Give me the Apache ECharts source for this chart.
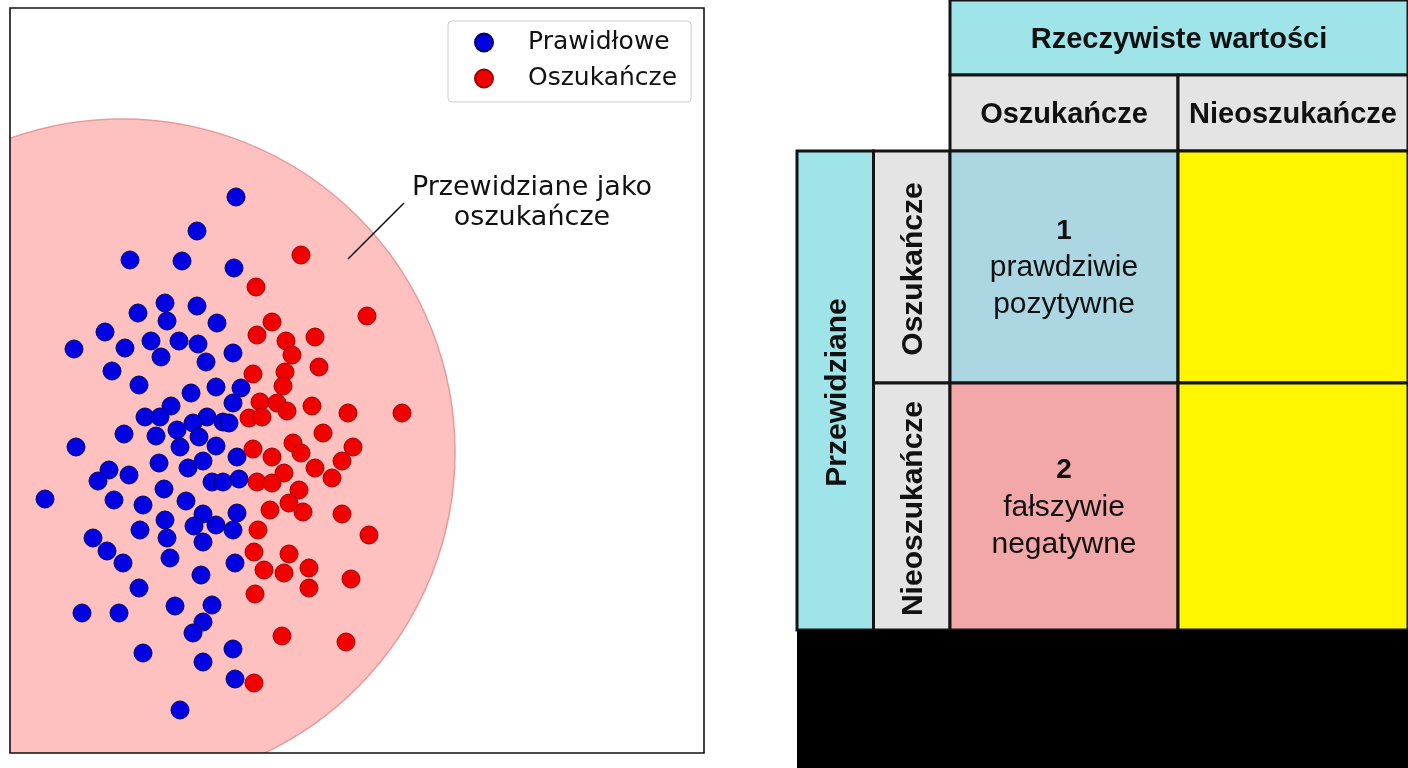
<!DOCTYPE html>
<html><head><meta charset="utf-8">
<script src="https://cdn.jsdelivr.net/npm/echarts@6/dist/echarts.min.js"></script>
<style>html,body{margin:0;padding:0;background:#fff}#chart{width:1408px;height:768px}</style>
</head><body><div id="chart"></div>
<script>
// ---------- scatter data (plot units) ----------
const seriesNames = ['Prawidłowe', 'Oszukańcze'];
const legitPoints = [[236,197],[197,231],[130,260],[182,261],[234,268],[165,303],[197,306],[138,313],[167,321],[217,323],[105,332],[151,341],[179,341],[198,344],[125,348],[74,349],[161,357],[233,353],[206,362],[112,371],[139,385],[191,393],[216,387],[241,388],[233,403],[171,406],[145,417],[160,417],[207,417],[223,422],[229,423],[193,423],[177,430],[199,437],[156,436],[124,434],[180,447],[76,447],[216,446],[237,457],[159,463],[188,468],[203,461],[109,470],[98,481],[129,475],[212,482],[223,482],[239,479],[164,489],[45,499],[114,500],[143,505],[186,501],[203,514],[237,513],[165,520],[194,526],[216,525],[233,530],[140,530],[93,538],[167,538],[203,542],[107,551],[123,563],[170,558],[201,575],[139,588],[175,606],[212,605],[203,622],[193,633],[82,613],[119,613],[143,653],[203,662],[180,710],[235,563],[233,649],[235,679]];
const fraudPoints = [[301,255],[256,287],[367,316],[272,322],[257,335],[286,341],[315,337],[292,355],[319,367],[253,374],[285,372],[283,386],[260,402],[277,403],[287,411],[249,418],[262,417],[312,406],[348,413],[402,413],[323,433],[253,449],[293,443],[301,453],[353,447],[272,457],[342,461],[315,468],[284,473],[257,482],[272,483],[332,478],[299,490],[289,503],[303,512],[270,510],[342,514],[258,530],[369,535],[254,552],[289,554],[264,570],[284,573],[309,568],[309,588],[351,579],[255,594],[282,636],[346,642],[254,683]];
const regionCircle = [[122, 452, 333]];          // centre x, centre y, radius
const annotationLines = ['Przewidziane jako', 'oszukańcze'];
const annotationAnchor = [532, 203];
const annotationPointer = [[404, 203], [348, 259]];

// ---------- confusion table content ----------
const actualTitle = 'Rzeczywiste wartości';
const predictedTitle = 'Przewidziane';
const actualClasses = ['Oszukańcze', 'Nieoszukańcze'];
const predictedClasses = ['Oszukańcze', 'Nieoszukańcze'];
const cellNumbers = [[1, null], [2, null]];
const cellTerms = [['prawdziwie\npozytywne', ''], ['fałszywie\nnegatywne', '']];

// ---------- layout (table units) ----------
const colEdges = [0, 76.5, 153, 381, 611];
const rowEdges = [0, 75, 151, 383, 630, 768];
const cellFills = [['#acd6e2', '#fff500'], ['#f2a8a8', '#fff500']];
const CYAN = '#9fe4e8', GRAY = '#e4e4e4';
const TFONT = '"Liberation Sans", Arial, sans-serif';
const PFONT = '"DejaVu Sans", sans-serif';

const cells = [];
cells.push({c: [2, 4], r: [0, 1], fill: CYAN, text: actualTitle, bold: true, size: 29});
actualClasses.forEach((a, j) => cells.push({c: [2 + j, 3 + j], r: [1, 2], fill: GRAY, text: a, bold: true, size: 29}));
cells.push({c: [0, 1], r: [2, 4], fill: CYAN, text: predictedTitle, bold: true, size: 30, rot: true});
predictedClasses.forEach((p, i) => cells.push({c: [1, 2], r: [2 + i, 3 + i], fill: GRAY, text: p, bold: true, size: 30, rot: true}));
predictedClasses.forEach((p, i) => actualClasses.forEach((a, j) => {
  const n = cellNumbers[i][j];
  cells.push({c: [2 + j, 3 + j], r: [2 + i, 3 + i], fill: cellFills[i][j],
    rich: n == null ? '' : '{n|' + n + '}\n' + cellTerms[i][j].split('\n').map(t => '{t|' + t + '}').join('\n')});
}));
cells.push({c: [0, 4], r: [4, 5], fill: '#000', text: '', noStroke: true});

const chart = echarts.init(document.getElementById('chart'), null, {renderer: 'canvas'});
chart.setOption({
  animation: false,
  backgroundColor: '#fff',
  grid: [
    {left: 10, top: 8, width: 694, height: 745, show: true, backgroundColor: '#fff', borderWidth: 0},
    {left: 797, top: 0, width: 611, height: 768}
  ],
  xAxis: [
    {gridIndex: 0, type: 'value', min: 10, max: 704, show: false},
    {gridIndex: 1, type: 'value', min: 0, max: 611, show: false}
  ],
  yAxis: [
    {gridIndex: 0, type: 'value', min: 8, max: 753, inverse: true, show: false},
    {gridIndex: 1, type: 'value', min: 0, max: 768, inverse: true, show: false}
  ],
  legend: {
    data: seriesNames, orient: 'vertical', left: 448, top: 21,
    icon: 'circle', itemWidth: 18, itemHeight: 18, itemGap: 11,
    padding: [9, 14, 11, 26],
    backgroundColor: '#fff', borderColor: '#cccccc', borderWidth: 1, borderRadius: 4,
    textStyle: {fontSize: 25, fontFamily: PFONT, color: '#111', padding: [0, 0, 0, 30], lineHeight: 24},
    z: 10
  },
  series: [
    {
      type: 'custom', xAxisIndex: 0, yAxisIndex: 0, z: 1, silent: true,
      data: regionCircle,
      renderItem: function (params, api) {
        const c = api.coord([api.value(0), api.value(1)]);
        const r = api.size([api.value(2), 0])[0];
        const cs = params.coordSys;
        return {
          type: 'circle', shape: {cx: c[0], cy: c[1], r: r},
          style: {fill: '#ffc0c0', stroke: '#e99a9a', lineWidth: 1.5},
          clipPath: {type: 'rect', shape: {x: cs.x, y: cs.y, width: cs.width, height: cs.height}}
        };
      }
    },
    {
      name: seriesNames[0], type: 'scatter', xAxisIndex: 0, yAxisIndex: 0, z: 2,
      symbolSize: 18, data: legitPoints,
      itemStyle: {color: '#0000e0', borderColor: '#000070', borderWidth: 1, opacity: 1}
    },
    {
      name: seriesNames[1], type: 'scatter', xAxisIndex: 0, yAxisIndex: 0, z: 2,
      symbolSize: 18, data: fraudPoints,
      itemStyle: {color: '#f20000', borderColor: '#a00000', borderWidth: 1, opacity: 1}
    },
    {
      type: 'custom', xAxisIndex: 0, yAxisIndex: 0, z: 3, silent: true,
      data: [annotationAnchor],
      renderItem: function (params, api) {
        const t = api.coord(annotationAnchor);
        const p0 = api.coord(annotationPointer[0]);
        const p1 = api.coord(annotationPointer[1]);
        const cs = params.coordSys;
        return {
          type: 'group', children: [
            {type: 'line', shape: {x1: p0[0], y1: p0[1], x2: p1[0], y2: p1[1]}, style: {stroke: '#000', lineWidth: 1.5}},
            {type: 'text', x: t[0], y: t[1], style: {text: annotationLines.join('\n'), fontSize: 27, fontFamily: PFONT,
              fill: '#111', align: 'center', verticalAlign: 'middle', lineHeight: 30}},
            {type: 'rect', shape: {x: cs.x, y: cs.y, width: cs.width, height: cs.height},
              style: {fill: null, stroke: '#111', lineWidth: 1.6}}
          ]
        };
      }
    },
    {
      type: 'custom', xAxisIndex: 1, yAxisIndex: 1, z: 1, silent: true,
      data: cells.map((c, i) => [i]),
      renderItem: function (params, api) {
        const cell = cells[params.dataIndex];
        const a = api.coord([colEdges[cell.c[0]], rowEdges[cell.r[0]]]);
        const b = api.coord([colEdges[cell.c[1]], rowEdges[cell.r[1]]]);
        const cx = (a[0] + b[0]) / 2, cy = (a[1] + b[1]) / 2;
        const children = [{
          type: 'rect', shape: {x: a[0], y: a[1], width: b[0] - a[0], height: b[1] - a[1]},
          style: {fill: cell.fill, stroke: cell.noStroke ? null : '#141414', lineWidth: 3}
        }];
        if (cell.text) {
          children.push({type: 'text', x: cell.rot ? cx + 2 : cx, y: cell.rot ? cy + 2 : cy + 2,
            rotation: cell.rot ? Math.PI / 2 : 0,
            style: {text: cell.text, fontSize: cell.size, fontWeight: cell.bold ? 'bold' : 'normal',
              fontFamily: TFONT, fill: '#111', align: 'center', verticalAlign: 'middle'}});
        }
        if (cell.rich) {
          children.push({type: 'text', x: cx, y: cy + 1,
            style: {text: cell.rich, fontFamily: TFONT, fill: '#111', align: 'center', verticalAlign: 'middle',
              rich: {n: {fontSize: 28, fontWeight: 'bold', lineHeight: 37, fontFamily: TFONT, fill: '#111'},
                     t: {fontSize: 30, lineHeight: 37, fontFamily: TFONT, fill: '#111'}}}});
        }
        return {type: 'group', children: children};
      }
    }
  ]
});
</script></body></html>
